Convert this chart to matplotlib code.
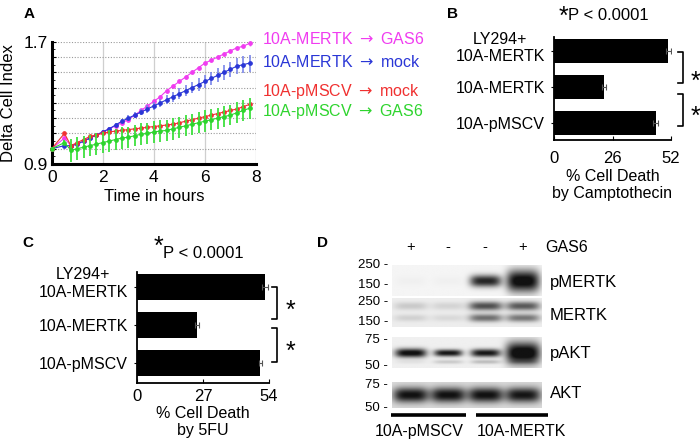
import numpy as np
import matplotlib
matplotlib.use("Agg")
import matplotlib.pyplot as plt
import matplotlib.transforms as mtransforms
from matplotlib.ticker import FixedLocator, FuncFormatter

plt.rcParams['font.family'] = ['Liberation Sans', 'DejaVu Sans']
plt.rcParams['mathtext.fontset'] = 'dejavusans'

# ---------------- data ----------------
# Panel A: delta cell index over time
times = [0, 0.5, 0.75, 1.0, 1.25, 1.5, 1.75, 2.0, 2.25, 2.5, 2.75, 3.0, 3.25, 3.5, 3.75,
         4.0, 4.25, 4.5, 4.75, 5.0, 5.25, 5.5, 5.75, 6.0, 6.25, 6.5, 6.75, 7.0, 7.25, 7.5, 7.75]
mertk_gas6 = [1.00, 1.07, 1.02, 1.03, 1.05, 1.07, 1.09, 1.11, 1.13, 1.15, 1.17, 1.19, 1.22, 1.25, 1.28,
              1.31, 1.34, 1.38, 1.41, 1.44, 1.47, 1.50, 1.53, 1.56, 1.58, 1.60, 1.62, 1.64, 1.66, 1.67, 1.69]
mertk_gas6_err = [0.008, 0.012, 0.012, 0.012, 0.012, 0.012, 0.012, 0.012, 0.012, 0.012, 0.012, 0.012, 0.012, 0.012, 0.012,
                  0.012, 0.013, 0.013, 0.013, 0.013, 0.013, 0.013, 0.013, 0.014, 0.014, 0.014, 0.014, 0.014, 0.014, 0.014, 0.015]
mertk_mock = [1.00, 1.02, 1.02, 1.03, 1.05, 1.07, 1.09, 1.11, 1.13, 1.155, 1.18, 1.20, 1.22, 1.24, 1.26,
              1.28, 1.30, 1.32, 1.34, 1.36, 1.38, 1.40, 1.42, 1.44, 1.46, 1.48, 1.50, 1.52, 1.54, 1.55, 1.56]
mertk_mock_err = [0.010, 0.012, 0.010, 0.010, 0.012, 0.012, 0.013, 0.014, 0.015, 0.016, 0.017, 0.018, 0.020, 0.022, 0.024,
                  0.026, 0.028, 0.030, 0.032, 0.034, 0.036, 0.038, 0.040, 0.042, 0.044, 0.046, 0.048, 0.050, 0.052, 0.054, 0.056]
pmscv_mock = [1.00, 1.10, 1.02, 1.04, 1.06, 1.08, 1.09, 1.10, 1.11, 1.115, 1.12, 1.125, 1.13, 1.135, 1.14,
              1.145, 1.15, 1.155, 1.16, 1.17, 1.18, 1.19, 1.20, 1.21, 1.22, 1.23, 1.24, 1.25, 1.26, 1.275, 1.29]
pmscv_mock_err = [0.006, 0.008, 0.008, 0.008, 0.008, 0.008, 0.008, 0.008, 0.008, 0.008, 0.008, 0.008, 0.008, 0.008, 0.008,
                  0.008, 0.008, 0.008, 0.008, 0.008, 0.008, 0.008, 0.008, 0.008, 0.008, 0.008, 0.008, 0.008, 0.008, 0.008, 0.008]
pmscv_gas6 = [1.00, 1.04, 0.99, 1.00, 1.01, 1.02, 1.03, 1.04, 1.05, 1.06, 1.07, 1.075, 1.085, 1.095, 1.10,
              1.11, 1.115, 1.12, 1.13, 1.14, 1.15, 1.16, 1.17, 1.18, 1.19, 1.20, 1.21, 1.22, 1.235, 1.25, 1.265]
pmscv_gas6_err = [0.010, 0.015, 0.075, 0.075, 0.072, 0.070, 0.070, 0.070, 0.070, 0.070, 0.070, 0.070, 0.070, 0.070, 0.070,
                  0.070, 0.070, 0.070, 0.070, 0.070, 0.070, 0.070, 0.070, 0.070, 0.070, 0.068, 0.068, 0.068, 0.068, 0.068, 0.068]
series_names = ["10A-MERTK $\\rightarrow$ GAS6", "10A-MERTK $\\rightarrow$ mock",
                "10A-pMSCV $\\rightarrow$ mock", "10A-pMSCV $\\rightarrow$ GAS6"]

# Panel B / C: % cell death
bar_labels = ["LY294+\n10A-MERTK", "10A-MERTK", "10A-pMSCV"]
campto_values = [50.8, 22.2, 45.3]
campto_err = [1.0, 0.9, 1.1]
campto_ticks = [0, 26, 52]
fu_values = [52.4, 24.6, 50.4]
fu_err = [1.1, 0.8, 0.6]
fu_ticks = [0, 27, 54]
pvalue_text = "P < 0.0001"

# Panel D: western blot band intensities (lanes: pMSCV+, pMSCV-, MERTK-, MERTK+)
gas6_treat = ["+", "-", "-", "+"]
blot_names = ["pMERTK", "MERTK", "pAKT", "AKT"]
pmertk_int = [0.02, 0.02, 0.82, 0.97]
mertk_int = [0.14, 0.10, 0.62, 0.58]
pakt_int = [0.92, 0.86, 0.86, 1.00]
akt_int = [0.80, 0.80, 0.80, 0.78]
mw_labels = [["250 -", "150 -"], ["250 -", "150 -"], ["75 -", "50 -"], ["75 -", "50 -"]]
cell_lines = ["10A-pMSCV", "10A-MERTK"]

# ---------------- figure ----------------
W, H = 700, 448
fig = plt.figure(figsize=(7, 4.48), dpi=100)


def fx(px):
    return px / W


def fy(py):
    return 1 - py / H


def rect(l, t, r, b):
    return [fx(l), fy(b), (r - l) / W, (b - t) / H]


FS = 11.5

# ---------- Panel A ----------
axA = fig.add_axes(rect(51.7, 41.7, 256, 164))
axA.set_xlim(0, 8)
axA.set_ylim(0.9, 1.7)
for s in ["top", "right"]:
    axA.spines[s].set_visible(False)
for s in ["left", "bottom"]:
    axA.spines[s].set_linewidth(2.2)
yt = [0.9 + 0.1 * i for i in range(9)]
axA.yaxis.set_major_locator(FixedLocator(yt))
axA.yaxis.set_major_formatter(FuncFormatter(lambda v, p: f"{v:.1f}" if (abs(v - 0.9) < 1e-6 or abs(v - 1.7) < 1e-6) else ""))
axA.yaxis.set_minor_locator(FixedLocator([0.95 + 0.1 * i for i in range(8)]))
axA.set_xticks([0, 2, 4, 6, 8])
axA.tick_params(axis="y", which="major", direction="in", length=3, width=0.8, labelsize=FS + 1, pad=3)
axA.tick_params(axis="y", which="minor", direction="in", length=2, width=0.6)
axA.tick_params(axis="x", direction="in", length=0, labelsize=FS + 1, pad=4)
axA.xaxis.grid(True, color="#cfcfcf", lw=0.9)
axA.yaxis.grid(True, which="major", color="#9a9a9a", lw=0.8, linestyle=(0, (1, 1.5)))
axA.set_axisbelow(True)
axA.set_xlabel("Time in hours", fontsize=FS + 0.5, labelpad=3)
axA.yaxis.set_label_coords(fx(9) - fx(51.7), 0.5, transform=None) if False else None
axA.set_ylabel("Delta Cell Index", fontsize=FS + 0.5)
axA.yaxis.set_label_coords(-(51.7 - 9) / (256 - 51.7), 0.5)
axA.yaxis.label.set_va("center")

colors = ["#f03cf0", "#2a36d6", "#f03030", "#2ed42e"]
ecolors = ["#f07cf0", "#7a86ea", "#f08a8a", "#3ee03e"]
order = [1, 0, 2, 3]
ys = [mertk_gas6, mertk_mock, pmscv_mock, pmscv_gas6]
errs = [mertk_gas6_err, mertk_mock_err, pmscv_mock_err, pmscv_gas6_err]
elw = [1.0, 1.2, 1.0, 1.3]
for i in order:
    axA.errorbar(times, ys[i], yerr=errs[i], color=colors[i], lw=0.8, marker="o", ms=2.4,
                 mec=colors[i], ecolor=ecolors[i], elinewidth=elw[i], capsize=0, clip_on=False, zorder=3 + i)

label_y = [39, 62, 91.5, 111]
for name, c, yy in zip(series_names, colors, label_y):
    fig.text(fx(262), fy(yy), name, color=c, fontsize=FS, va="center", ha="left")

fig.text(fx(29), fy(14), "A", fontsize=11, fontweight="bold", ha="center", va="center")


# ---------- bar panels ----------
def bar_panel(box, values, errs, ticks, xlabel, ylim, height, tick_pad, labelpad, brackets, stars, star_x, br_x):
    ax = fig.add_axes(box)
    ax.barh(bar_labels, values, xerr=errs, height=height, color="black",
            error_kw=dict(ecolor="#555555", lw=0.8, capsize=2, capthick=0.8))
    ax.set_xlim(ticks[0], ticks[-1])
    ax.set_ylim(*ylim)
    ax.set_xticks(ticks)
    for s in ["top", "right"]:
        ax.spines[s].set_visible(False)
    for s in ["left", "bottom"]:
        ax.spines[s].set_linewidth(1.3)
    ax.tick_params(axis="x", direction="in", length=3, width=0.8, labelsize=FS + 0.5, pad=tick_pad)
    ax.tick_params(axis="y", direction="out", length=2.5, width=0.8, labelsize=FS, pad=4)
    for lab in ax.get_yticklabels():
        lab.set_multialignment("center")
        if "\n" in lab.get_text():
            lab.set_transform(lab.get_transform() + mtransforms.ScaledTranslation(0, 6 / 100, fig.dpi_scale_trans))
    ax.set_xlabel(xlabel, fontsize=FS, labelpad=labelpad, linespacing=1.15)
    trans = mtransforms.blended_transform_factory(ax.transAxes, ax.transData)
    for (y0, y1) in brackets:
        ax.plot([br_x[0], br_x[1], br_x[1], br_x[0]], [y0, y0, y1, y1], transform=trans,
                clip_on=False, color="black", lw=1.2)
    for sy in stars:
        ax.text(star_x, sy, "*", transform=trans, fontsize=18, ha="center", va="center", clip_on=False)
    return ax


axB = bar_panel(rect(554, 37, 671, 140), campto_values, campto_err, campto_ticks,
                "% Cell Death\nby Camptothecin", (2.47, -0.39), 0.67, 8, 2,
                [(0.03, 0.89), (1.19, 2.08)], [0.85, 1.82], 1.21, (1.06, 1.10))
fig.text(fx(563), fy(5), "*", fontsize=18, ha="center", va="top")
fig.text(fx(568), fy(16), pvalue_text, fontsize=FS + 0.5, ha="left", va="center")
fig.text(fx(452), fy(14), "B", fontsize=11, fontweight="bold", ha="center", va="center")

axC = bar_panel(rect(137, 272, 269, 383), fu_values, fu_err, fu_ticks,
                "% Cell Death\nby 5FU", (2.53, -0.39), 0.68, 4, 2,
                [(0.0, 0.84), (1.08, 1.97)], [0.64, 1.72], 1.16, (1.023, 1.06))
fig.text(fx(158), fy(235), "*", fontsize=18, ha="center", va="top")
fig.text(fx(163), fy(253), pvalue_text, fontsize=FS + 0.5, ha="left", va="center")
fig.text(fx(28), fy(243), "C", fontsize=11, fontweight="bold", ha="center", va="center")
fig.text(fx(322), fy(243), "D", fontsize=11, fontweight="bold", ha="center", va="center")

# ---------- Panel D: western blot ----------
axD = fig.add_axes(rect(391.7, 262, 541, 410))
axD.set_axis_off()


def strip(y0, y1, bg, bands):
    nx, ny = 320, 90
    xs = np.linspace(0, 4, nx)
    yy = np.linspace(y0, y1, ny)
    X, Y = np.meshgrid(xs, yy)
    dark = np.full(X.shape, bg)
    for (yc, intens, hh, wx) in bands:
        for i in range(4):
            prof_x = np.exp(-np.abs((X - (i + 0.5)) / wx[i]) ** 4)
            prof_y = np.exp(-np.abs((Y - yc) / hh[i]) ** 2.2)
            dark = dark + intens[i] * prof_x * prof_y
    dark = np.clip(dark, 0, 0.93)
    axD.imshow(1 - dark, cmap="gray", vmin=0, vmax=1, extent=[0, 4, y1, y0],
               aspect="auto", interpolation="bilinear", origin="upper")


strip(265, 296, 0.04, [(281, pmertk_int, [5, 5, 6, 11], [0.4, 0.4, 0.42, 0.44])])
strip(298, 327, 0.07, [(306, mertk_int, [4, 4, 4.5, 4.5], [0.45, 0.45, 0.45, 0.45]),
                       (318, [v * 0.8 for v in mertk_int], [3.5, 3.5, 4, 4], [0.45, 0.45, 0.45, 0.45])])
strip(337, 368, 0.06, [(353, pakt_int, [4.5, 3.5, 4, 11], [0.42, 0.38, 0.40, 0.46]),
                       (362, [0.05, 0.15, 0.2, 0.1], [2, 2, 2, 2], [0.4, 0.4, 0.4, 0.4])])
strip(382, 408, 0.14, [(395, akt_int, [7.5, 7.5, 7.5, 7.5], [0.47, 0.47, 0.47, 0.47])])
axD.set_xlim(0, 4)
axD.set_ylim(410, 262)

lane_x = [0.5, 1.5, 2.5, 3.5]
for lx, g in zip(lane_x, gas6_treat):
    axD.text(lx, 247, g, fontsize=FS - 1, ha="center", va="center", clip_on=False)
fig.text(fx(545), fy(247), "GAS6", fontsize=FS, ha="left", va="center")

mw_y = [(265, 285), (302, 322), (340, 366), (385, 408)]
for labs, ypos in zip(mw_labels, mw_y):
    for lab, yv in zip(labs, ypos):
        fig.text(fx(388), fy(yv), lab, fontsize=9.5, ha="right", va="center")

name_y = [282, 315, 353, 393]
for nm, yv in zip(blot_names, name_y):
    fig.text(fx(550), fy(yv), nm, fontsize=FS + 0.5, ha="left", va="center")

axD.plot([-0.02, 1.98], [415, 415], color="black", lw=2.6, clip_on=False, solid_capstyle="butt")
axD.plot([2.25, 4.2], [415, 415], color="black", lw=2.6, clip_on=False, solid_capstyle="butt")
fig.text(fx(419), fy(431), cell_lines[0], fontsize=FS, ha="center", va="center")
fig.text(fx(521), fy(431), cell_lines[1], fontsize=FS, ha="center", va="center")

fig.savefig("out.png", dpi=100)
